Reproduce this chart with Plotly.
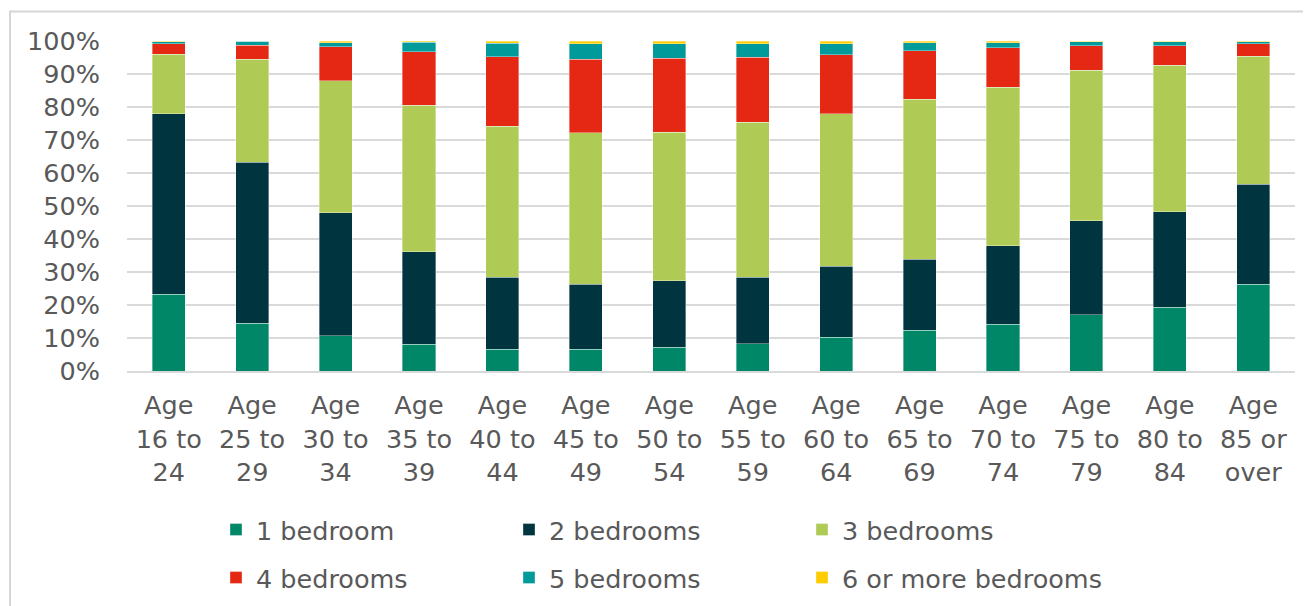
import plotly.graph_objects as go

categories = ["Age<br>16 to<br>24", "Age<br>25 to<br>29", "Age<br>30 to<br>34", "Age<br>35 to<br>39",
              "Age<br>40 to<br>44", "Age<br>45 to<br>49", "Age<br>50 to<br>54", "Age<br>55 to<br>59",
              "Age<br>60 to<br>64", "Age<br>65 to<br>69", "Age<br>70 to<br>74", "Age<br>75 to<br>79",
              "Age<br>80 to<br>84", "Age<br>85 or<br>over"]

bed1 = [23.2, 14.4, 10.7, 8.1, 6.6, 6.6, 7.2, 8.3, 10.2, 12.3, 14.2, 17.1, 19.3, 26.3]
bed2 = [54.7, 48.8, 37.3, 28.0, 21.8, 19.7, 20.1, 20.1, 21.5, 21.5, 23.7, 28.4, 28.9, 30.3]
bed3 = [18.1, 31.3, 39.9, 44.4, 45.8, 45.9, 45.0, 47.0, 46.2, 48.5, 48.1, 45.6, 44.5, 38.8]
bed4 = [3.2, 4.2, 10.3, 16.3, 21.0, 22.3, 22.5, 19.7, 18.0, 14.7, 12.0, 7.4, 5.8, 3.8]
bed5 = [0.6, 1.2, 1.3, 2.8, 4.1, 4.7, 4.4, 4.1, 3.3, 2.4, 1.5, 1.2, 1.2, 0.5]
bed6 = [0.2, 0.1, 0.5, 0.4, 0.7, 0.8, 0.8, 0.8, 0.8, 0.6, 0.5, 0.3, 0.3, 0.3]

series_names = ["1 bedroom", "2 bedrooms", "3 bedrooms", "4 bedrooms", "5 bedrooms", "6 or more bedrooms"]
series_values = [bed1, bed2, bed3, bed4, bed5, bed6]
colors = ["#008767", "#00343F", "#AFCA55", "#E52813", "#009A9A", "#FFCC00"]

TEXT = "#595959"
FONT = "DejaVu Sans, Liberation Sans, Arial, sans-serif"
FS = 25.5

W, H = 1303, 598  # page body adds an 8px offset

# legend slots: 3 columns x 2 rows (figure pixel coords)
legend_cols = [208, 501, 794]
legend_rows = [522, 570]

fig = go.Figure()
legend_layout = {}
for i, (name, vals, col) in enumerate(zip(series_names, series_values, colors)):
    lid = "legend" if i == 0 else f"legend{i + 1}"
    fig.add_trace(go.Bar(
        x=categories, y=vals, name=name, legend=lid, showlegend=True,
        marker=dict(color=col, line=dict(color="rgba(255,255,255,0.45)", width=0.8)),
    ))
    legend_layout[lid] = dict(
        orientation="h", xref="container", yref="container", xanchor="left", yanchor="middle",
        x=legend_cols[i % 3] / W, y=1 - legend_rows[i // 3] / H,
        font=dict(size=FS, color=TEXT, family=FONT), bgcolor="rgba(0,0,0,0)",
    )

fig.update_layout(
    width=W, height=H, showlegend=True,
    barmode="stack", bargap=0.604,
    plot_bgcolor="white", paper_bgcolor="white",
    margin=dict(l=119, r=16, t=33, b=235, pad=0, autoexpand=False),
    font=dict(family=FONT, color=TEXT, size=FS),
    shapes=[dict(type="rect", xref="paper", yref="paper",
                 x0=-117 / 1168, x1=1.3, y0=-1.2, y1=1 + 29.5 / 330,
                 line=dict(color="#D6D6D6", width=2), fillcolor="rgba(0,0,0,0)", layer="above")],
    **legend_layout,
)
fig.update_yaxes(range=[0, 100], dtick=10, ticksuffix="%", showgrid=True, gridcolor="#D9D9D9",
                 gridwidth=1.5, zeroline=False, showline=False, ticklabelstandoff=26,
                 automargin=False, tickfont=dict(size=FS, color=TEXT, family=FONT))
fig.update_xaxes(showline=True, linecolor="#D9D9D9", linewidth=1.5, ticklabelstandoff=11,
                 automargin=False, tickfont=dict(size=FS, color=TEXT, family=FONT), tickangle=0)

fig.write_html("out.html")
